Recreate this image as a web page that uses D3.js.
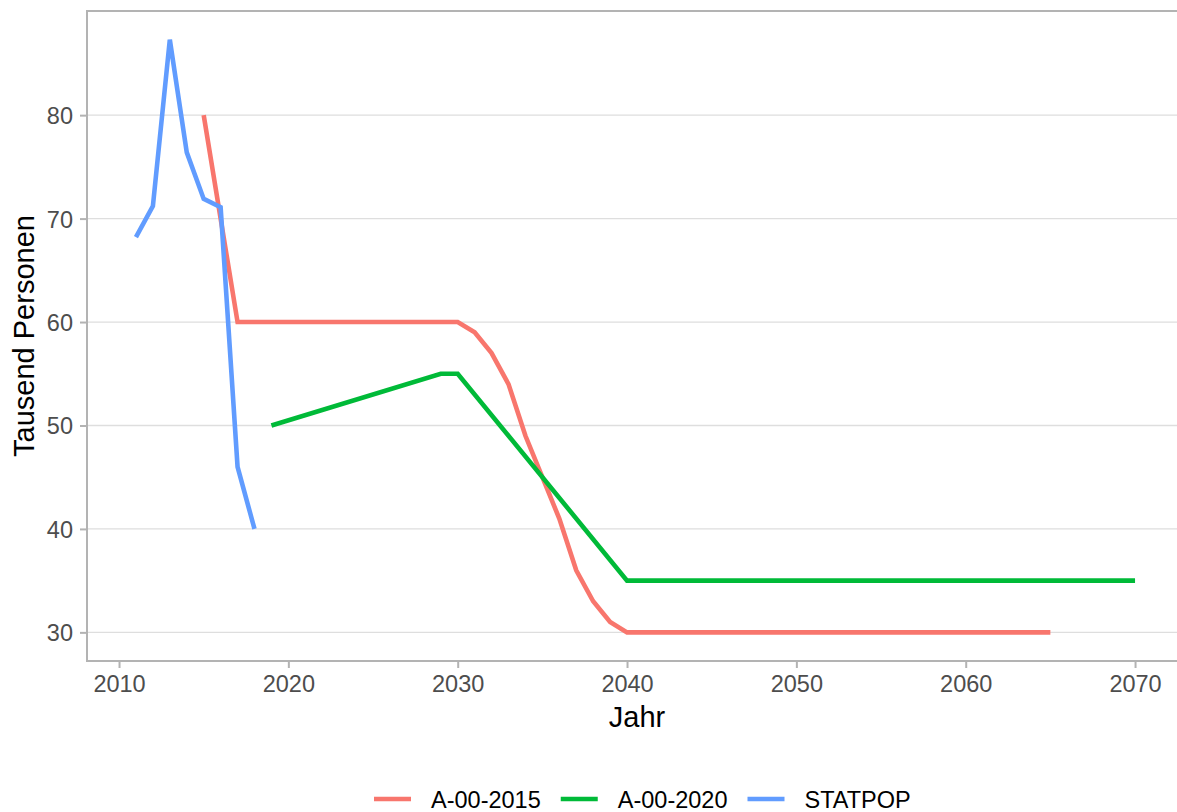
<!DOCTYPE html>
<html>
<head>
<meta charset="utf-8">
<script src="https://cdn.jsdelivr.net/npm/d3@7"></script>
<style>
  body { margin: 0; background: #fff; }
  svg text { font-family: "Liberation Sans", Arial, sans-serif; }
</style>
</head>
<body>
<div id="chart"></div>
<script>
// data
const series = ["A-00-2015", "A-00-2020", "STATPOP"];
const colors = ["#F8766D", "#00BA38", "#619CFF"];

const years2015 = [2015, 2016, 2017, 2030, 2031, 2032, 2033, 2034, 2035, 2036, 2037, 2038, 2039, 2040, 2065];
const values2015 = [80, 70, 60, 60, 59, 57, 54, 49, 45, 41, 36, 33, 31, 30, 30];

const years2020 = [2019, 2029, 2030, 2040, 2070];
const values2020 = [50, 55, 55, 35, 35];

const yearsStatpop = [2011, 2012, 2013, 2014, 2015, 2016, 2017, 2018];
const valuesStatpop = [68.2, 71.2, 87.3, 76.4, 71.9, 71.1, 46.0, 40.0];

const xTicks = [2010, 2020, 2030, 2040, 2050, 2060, 2070];
const yTicks = [30, 40, 50, 60, 70, 80];

const lines = [
  years2015.map((y, i) => ({ year: y, value: values2015[i] })),
  years2020.map((y, i) => ({ year: y, value: values2020[i] })),
  yearsStatpop.map((y, i) => ({ year: y, value: valuesStatpop[i] }))
];

const w = 1177;
const h = 812;
const pLeft = 86, pRight = 1185, pTop = 11, pBottom = 661;

// ggplot style 5% expansion
const allYears = [].concat(years2015, years2020, yearsStatpop);
const allVals = [].concat(values2015, values2020, valuesStatpop);
const xMin = d3.min(allYears), xMax = d3.max(allYears);
const yMin = d3.min(allVals), yMax = d3.max(allVals);
const xPad = (xMax - xMin) * 0.05, yPad = (yMax - yMin) * 0.05;

const x = d3.scaleLinear().domain([xMin - xPad, xMax + xPad]).range([pLeft, pRight]);
const y = d3.scaleLinear().domain([yMin - yPad, yMax + yPad]).range([pBottom + 1, pTop - 1]);

const svg = d3.select("#chart")
      .append("svg")
      .attr("width", w)
      .attr("height", h);

//horizontal grid
svg.append("g")
      .selectAll("line")
      .data(yTicks)
      .enter()
      .append("line")
      .attr("x1", pLeft + 1)
      .attr("x2", pRight)
      .attr("y1", (d) => y(d))
      .attr("y2", (d) => y(d))
      .style("stroke", "#dedede")
      .style("stroke-width", 1.3);

//axes
const yAxis = svg.append("g")
      .attr("transform", `translate(${pLeft + 1},0)`)
      .call(d3.axisLeft(y).tickValues(yTicks).tickSize(7).tickPadding(7));
const xAxis = svg.append("g")
      .attr("transform", `translate(0,${pBottom})`)
      .call(d3.axisBottom(x).tickValues(xTicks).tickSize(7).tickPadding(7).tickFormat(d3.format("d")));

for (const ax of [yAxis, xAxis]) {
      ax.select(".domain").remove();
      ax.selectAll("line").style("stroke", "#b3b3b3").style("stroke-width", 2);
      ax.selectAll("text")
            .style("font-size", "23.5px")
            .style("fill", "#4d4d4d")
            .style("font-family", "Liberation Sans, Arial, sans-serif");
}
yAxis.selectAll("text").attr("dy", "0.36em");
xAxis.selectAll("text").attr("dy", "0.72em");

//panel frame (left, top, bottom)
svg.append("path")
      .attr("d", `M${pRight},${pTop} H${pLeft + 1} V${pBottom} H${pRight}`)
      .style("fill", "none")
      .style("stroke", "#b3b3b3")
      .style("stroke-width", 2);

//series lines
const lineGen = d3.line()
      .x((d) => x(d.year))
      .y((d) => y(d.value));

svg.append("g")
      .selectAll("path")
      .data(lines)
      .enter()
      .append("path")
      .attr("d", lineGen)
      .style("fill", "none")
      .style("stroke", (d, i) => colors[i])
      .style("stroke-width", 4.6)
      .style("stroke-linejoin", "miter")
      .style("stroke-linecap", "butt");

//axis titles
svg.append("text")
      .text("Jahr")
      .attr("x", (pLeft + 1 + 1177) / 2 + 5)
      .attr("y", 727)
      .attr("text-anchor", "middle")
      .style("font-size", "29px")
      .style("fill", "#000");

svg.append("text")
      .text("Tausend Personen")
      .attr("transform", `translate(34,${(pTop + pBottom) / 2}) rotate(-90)`)
      .attr("text-anchor", "middle")
      .style("font-size", "29px")
      .style("fill", "#000");

//legend
const legend = svg.append("g");
const items = legend.selectAll("g")
      .data(series)
      .enter()
      .append("g");
items.append("line")
      .attr("x1", 0)
      .attr("x2", 37)
      .attr("y1", 799)
      .attr("y2", 799)
      .style("stroke", (d, i) => colors[i])
      .style("stroke-width", 4.6);
items.append("text")
      .text((d) => d)
      .attr("x", 57)
      .attr("y", 808)
      .style("font-size", "23.5px")
      .style("fill", "#000");

let cx = 374;
items.each(function () {
      d3.select(this).attr("transform", `translate(${cx},0)`);
      const tw = d3.select(this).select("text").node().getComputedTextLength();
      cx += 57 + tw + 20;
});
</script>
</body>
</html>
